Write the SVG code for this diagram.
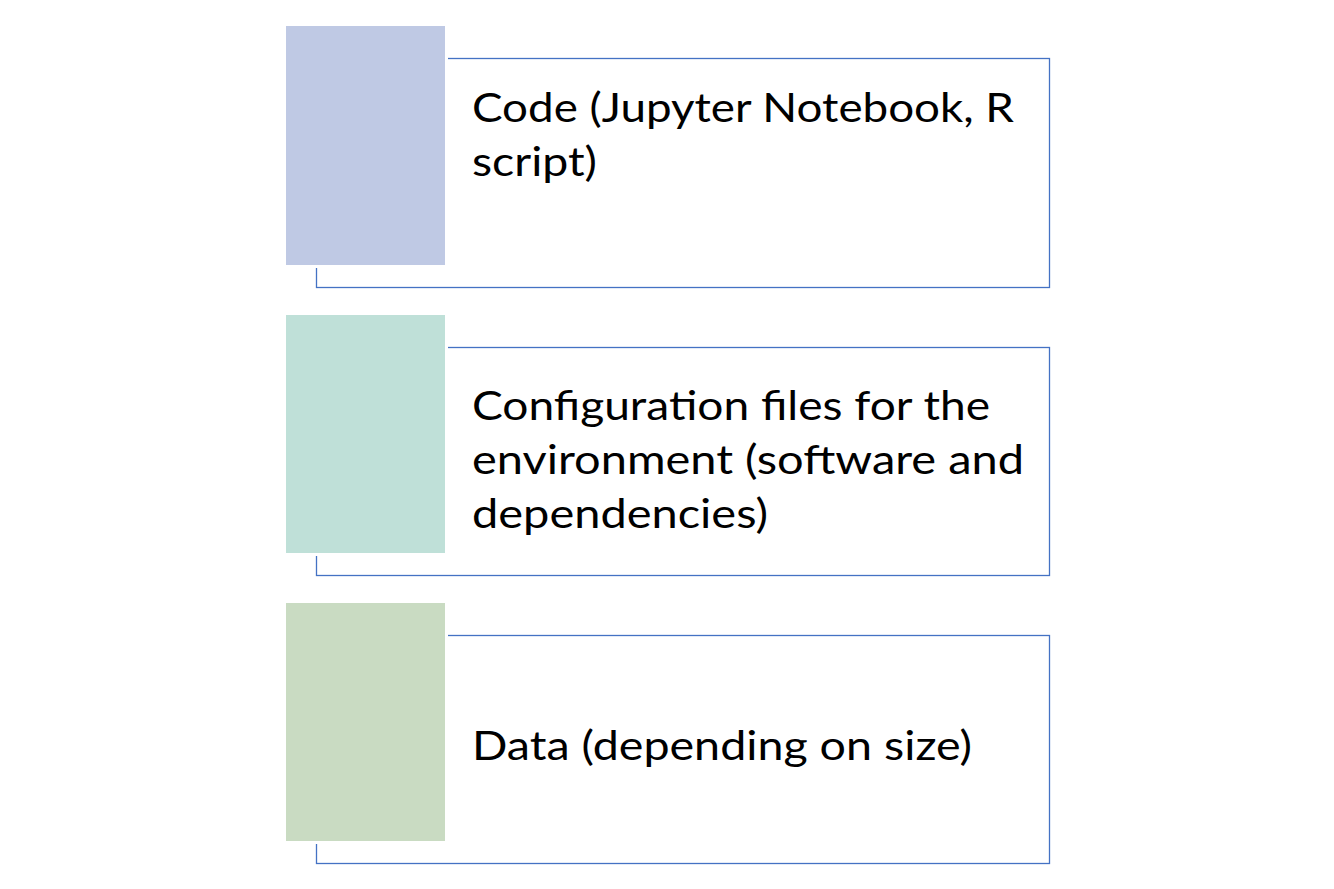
<svg xmlns="http://www.w3.org/2000/svg" width="1334" height="889" viewBox="0 0 1334 889">
<style>
.frame{fill:#ffffff;stroke:#4472C4;stroke-width:1.3}
.tab{stroke:#ffffff;stroke-width:3}
.t{font-family:Lato,"Open Sans","Liberation Sans",sans-serif;font-size:40px;fill:#000000}
</style>
<rect x="0" y="0" width="1334" height="889" fill="#ffffff"/>
<g id="connectors"></g>
<g id="node-code">
<rect class="frame" x="316.5" y="58.5" width="733" height="229"/>
<rect class="tab" x="284.5" y="24.5" width="162" height="242" fill="#BFC9E4"/>
<text class="t" x="472" y="122" textLength="542" lengthAdjust="spacingAndGlyphs">Code (Jupyter Notebook, R</text>
<text class="t" x="472" y="176" textLength="125" lengthAdjust="spacingAndGlyphs">script)</text>
</g>
<g id="node-config">
<rect class="frame" x="316.5" y="347.5" width="733" height="228"/>
<rect class="tab" x="284.5" y="313.5" width="162" height="241" fill="#BFE0D8"/>
<text class="t" x="472" y="420" textLength="518" lengthAdjust="spacingAndGlyphs">Configuration files for the</text>
<text class="t" x="472" y="474" textLength="552" lengthAdjust="spacingAndGlyphs">environment (software and</text>
<text class="t" x="472" y="528" textLength="296" lengthAdjust="spacingAndGlyphs">dependencies)</text>
</g>
<g id="node-data">
<rect class="frame" x="316.5" y="635.5" width="733" height="228"/>
<rect class="tab" x="284.5" y="601.5" width="162" height="241" fill="#C9DBC2"/>
<text class="t" x="472" y="760" textLength="500" lengthAdjust="spacingAndGlyphs">Data (depending on size)</text>
</g>
</svg>
